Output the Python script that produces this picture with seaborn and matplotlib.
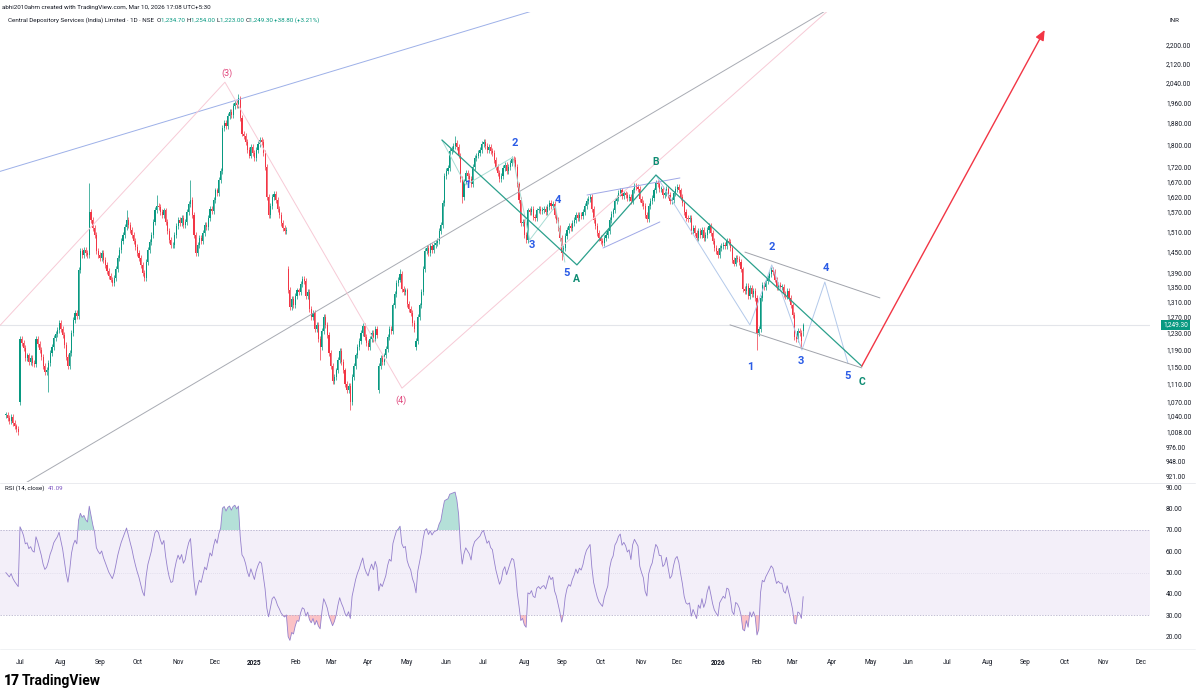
import numpy as np
import pandas as pd
import matplotlib
matplotlib.use("Agg")
import matplotlib.pyplot as plt
import seaborn as sns
from matplotlib.ticker import FixedLocator, NullLocator, FuncFormatter

# daily closes, CDSL, 19 Jun 2024 -> 10 Mar 2026
closes = [
    1042, 1036, 1030, 1038, 1026, 1018, 1012, 1006,
    1215, 1205, 1192, 1170, 1175, 1160, 1168, 1158, 1155, 1215,
    1203, 1188, 1172, 1150, 1136, 1142, 1158, 1180, 1195, 1217,
    1228, 1238, 1255, 1240, 1225, 1200, 1172, 1150, 1180, 1230,
    1262, 1280, 1272, 1396, 1450, 1440, 1455, 1445, 1440, 1570,
    1545, 1520, 1500, 1452, 1440, 1432, 1445, 1425, 1410, 1395,
    1380, 1370, 1360, 1375, 1400, 1430, 1455, 1480, 1500, 1522,
    1545, 1530, 1515, 1500, 1480, 1462, 1445, 1430, 1410, 1388,
    1375, 1420, 1455, 1477, 1500, 1540, 1578, 1590, 1585, 1570,
    1560, 1575, 1540, 1510, 1485, 1468, 1470, 1500, 1525, 1545,
    1535, 1550, 1530, 1540, 1570, 1595, 1610, 1560, 1500, 1445,
    1470, 1490, 1482, 1505, 1530, 1522, 1550, 1580, 1572, 1610,
    1640, 1630, 1675, 1705, 1861, 1880, 1868, 1905, 1920, 1910,
    1945, 1958, 1950, 1975, 1900, 1840, 1830, 1810, 1780, 1760,
    1790, 1770, 1750, 1780, 1800, 1815, 1810, 1770, 1720, 1620,
    1560, 1590, 1620, 1627, 1610, 1580, 1560, 1535, 1520, 1510,
    1515, 1341, 1295, 1318, 1302, 1325, 1340, 1335, 1358, 1372,
    1365, 1325, 1335, 1290, 1270, 1280, 1240, 1250, 1215, 1195,
    1235, 1270, 1250, 1225, 1180, 1150, 1115, 1125, 1140, 1165,
    1185, 1160, 1140, 1110, 1095, 1105, 1070, 1125, 1150, 1175,
    1195, 1210, 1230, 1248, 1220, 1205, 1195, 1215, 1230, 1215,
    1240, 1225, 1150, 1170, 1160, 1175, 1190, 1220, 1240, 1235,
    1300, 1330, 1360, 1370, 1385, 1345, 1335, 1340, 1305, 1290,
    1280, 1255, 1240, 1210, 1270, 1300, 1335, 1400, 1450, 1460,
    1445, 1465, 1455, 1470, 1475, 1480, 1510, 1530, 1600, 1690,
    1705, 1715, 1775, 1785, 1795, 1805, 1790, 1760, 1680, 1620,
    1670, 1700, 1690, 1680, 1660, 1720, 1750, 1760, 1770, 1780,
    1800, 1810, 1795, 1780, 1790, 1775, 1770, 1745, 1720, 1700,
    1680, 1690, 1715, 1725, 1705, 1720, 1735, 1748, 1745, 1720,
    1660, 1610, 1535, 1540, 1500, 1484, 1575, 1570, 1580, 1555,
    1550, 1575, 1580, 1572, 1578, 1580, 1570, 1585, 1600, 1590, 1595,
    1560, 1545, 1520, 1490, 1445, 1460, 1495, 1515, 1525, 1520,
    1535, 1545, 1560, 1550, 1562, 1558, 1570, 1590, 1605, 1612,
    1620, 1580, 1545, 1525, 1505, 1490, 1482, 1475, 1490, 1500,
    1510, 1545, 1565, 1575, 1605, 1615, 1632, 1640, 1622, 1630,
    1625, 1615, 1620, 1605, 1640, 1655, 1650, 1645, 1612, 1600,
    1590, 1560, 1548, 1590, 1605, 1615, 1640, 1665, 1660, 1645,
    1645, 1625, 1630, 1645, 1625, 1605, 1610, 1630, 1645, 1650,
    1640, 1620, 1600, 1570, 1552, 1548, 1550, 1510, 1520, 1505,
    1490, 1510, 1500, 1515, 1490, 1498, 1515, 1525, 1505, 1480,
    1460, 1450, 1440, 1460, 1465, 1470, 1465, 1480, 1478,
    1460, 1425, 1415, 1432, 1428, 1418, 1398, 1345, 1338, 1352,
    1325, 1348, 1330, 1338, 1320, 1230, 1240, 1320, 1355, 1350,
    1365, 1375, 1385, 1396, 1390, 1370, 1350, 1355, 1350, 1350,
    1330, 1325, 1338, 1320, 1300, 1275, 1220, 1215, 1235, 1230,
    1210.5, 1249.3,
]
gap_opens = {8: 1070, 159: 1400, 210: 1095, 231: 1195, 449: 1234.7}
wick_highs = {47: 1665, 68: 1578, 85: 1625, 104: 1675, 131: 1992,
              222: 1398, 253: 1830, 431: 1405, 449: 1254}
wick_lows = {24: 1092, 177: 1165, 194: 1052, 257: 1600, 313: 1425,
             423: 1188, 448: 1195, 449: 1223}

price_ticks = [2200, 2120, 2040, 1960, 1880, 1800, 1720, 1670, 1620, 1570,
               1510, 1450, 1390, 1350, 1310, 1270, 1230, 1190, 1150, 1110,
               1070, 1040, 1008, 976, 948, 921]
rsi_ticks = [20, 30, 40, 50, 60, 70, 80, 90]
last_close = 1249.30

# drawings: (bar index, price)
wave_pink = [(-4, 1245), (123.4, 2041), (223.1, 1100), (472, 2427)]
line_blue = [(-4, 1703), (300, 2366)]
line_grey = [(10, 906), (472, 2410)]
wave_abc = [(245.6, 1816), (321.6, 1411), (366.1, 1692), (482, 1150)]
sub_a = [(245.6, 1816), (259, 1658), (285.5, 1754), (295, 1484), (309.5, 1589), (314.8, 1419)]
sub_c = [(366.1, 1692), (419, 1250), (431.3, 1411), (448.3, 1188), (461.2, 1363), (474.2, 1157)]
diag_upper = [(416.2, 1448), (492.2, 1320)]
diag_lower = [(407.8, 1250), (482, 1146)]
b_upper = [(327.3, 1625), (379.6, 1682)]
b_lower = [(336.3, 1460), (368.3, 1539)]
target = [(482, 1150), (585, 2268)]

BLUE_LBL = "#2B5CE6"
GREEN_LBL = "#0E8C73"
PINK_LBL = "#E0457B"
labels = [
    (124.8, 2079, "(3)", PINK_LBL, 6.5, "normal"),
    (222.6, 1074, "(4)", PINK_LBL, 6.5, "normal"),
    (260, 1658, "1", BLUE_LBL, 8, "bold"),
    (286.6, 1805, "2", BLUE_LBL, 8, "bold"),
    (296.3, 1469, "3", BLUE_LBL, 8, "bold"),
    (310.9, 1608, "4", BLUE_LBL, 8, "bold"),
    (316, 1388, "5", BLUE_LBL, 8, "bold"),
    (321.6, 1371, "A", GREEN_LBL, 7.5, "bold"),
    (366.1, 1737, "B", GREEN_LBL, 7.5, "bold"),
    (419, 1148, "1", BLUE_LBL, 8, "bold"),
    (431.3, 1463, "2", BLUE_LBL, 8, "bold"),
    (447.7, 1162, "3", BLUE_LBL, 8, "bold"),
    (461.8, 1402, "4", BLUE_LBL, 8, "bold"),
    (474.2, 1127, "5", BLUE_LBL, 8, "bold"),
    (482, 1114, "C", GREEN_LBL, 7.5, "bold"),
]

UP, DOWN = "#089981", "#F23645"
TXT = "#131722"

sns.set_theme(style="white")
plt.rcParams["font.family"] = ["Roboto", "DejaVu Sans"]

W, H = 1200, 695
fig = plt.figure(figsize=(W / 100, H / 100), dpi=100)
fig.patch.set_facecolor("white")


def fx(px):
    return px / W


def fy(py):
    return 1 - py / H


ax = fig.add_axes([0, fy(482), fx(1150), (482 - 12) / H])
ax_rsi = fig.add_axes([0, fy(648), fx(1150), (648 - 483) / H])

n = len(closes)
idx = np.arange(n)
c = np.array(closes, dtype=float)
o = np.r_[c[0], c[:-1]]
for k, v in gap_opens.items():
    if k < n:
        o[k] = v
hi = np.maximum(o, c) * 1.006
lo = np.minimum(o, c) * 0.994
for k, v in wick_highs.items():
    if k < n:
        hi[k] = v
for k, v in wick_lows.items():
    if k < n:
        lo[k] = v
cols = np.where(c >= o, UP, DOWN)

df = pd.DataFrame({"i": idx, "open": o, "close": c, "high": hi, "low": lo})
df["date"] = pd.bdate_range("2024-06-19", periods=n)

# candles
ax.vlines(df["i"], df["low"], df["high"], colors=cols, linewidth=0.5)
body_lo = np.minimum(o, c)
body_h = np.maximum(np.abs(c - o), c * 0.0015)
ax.bar(df["i"], body_h, bottom=body_lo, width=0.62, color=cols, linewidth=0)


# drawings
def poly(ax_, pts, **kw):
    xs, ys = zip(*pts)
    ax_.plot(xs, ys, solid_capstyle="round", **kw)


poly(ax, line_blue, color="#9DB0E8", lw=0.7)
poly(ax, line_grey, color="#A8ABB3", lw=0.7)
poly(ax, wave_pink, color="#F7CAD6", lw=0.7)
poly(ax, sub_a, color="#A8DCD4", lw=0.7)
poly(ax, sub_c, color="#B3C9EA", lw=0.7)
poly(ax, b_upper, color="#9FA8E6", lw=0.7)
poly(ax, b_lower, color="#9FA8E6", lw=0.7)
poly(ax, diag_upper, color="#A0A3AB", lw=0.7)
poly(ax, diag_lower, color="#A0A3AB", lw=0.7)
poly(ax, wave_abc, color="#2BA08C", lw=0.9)
ax.annotate("", xy=target[1], xytext=target[0],
            arrowprops=dict(arrowstyle="-|>,head_length=0.5,head_width=0.22",
                            color="#F23645", lw=1.0, shrinkA=0, shrinkB=0))
for (xi, p, s, col, size, wt) in labels:
    ax.text(xi, p, s, color=col, fontsize=size, fontweight=wt, ha="center", va="center")

ax.axhline(last_close, color="#E3E5EA", lw=0.8, zorder=0)

ax.set_yscale("log")
ax.set_ylim(910, 2352)
ax.set_xlim(-3.26, 644.3)
ax.yaxis.set_major_locator(FixedLocator(price_ticks))
ax.yaxis.set_minor_locator(NullLocator())
ax.yaxis.set_major_formatter(FuncFormatter(lambda v, _: f"{v:,.2f}"))
ax.yaxis.tick_right()
ax.tick_params(axis="y", length=0, pad=11.5, labelsize=4.7, labelcolor=TXT)
ax.set_xticks([])
for s in ax.spines.values():
    s.set_visible(False)

# RSI(14) with Wilder smoothing
diff = np.diff(c, prepend=c[0])
ag, al = 12.0, 12.0
rsi = []
for d in diff:
    ag = (ag * 13 + max(d, 0)) / 14
    al = (al * 13 + max(-d, 0)) / 14
    rsi.append(100 * ag / (ag + al))
df["rsi"] = rsi

ax_rsi.axhspan(30, 70, color="#7E57C2", alpha=0.09, lw=0)
ax_rsi.axhline(70, color="#A9A4C4", lw=0.5, ls=(0, (2, 2)))
ax_rsi.axhline(30, color="#A9A4C4", lw=0.5, ls=(0, (2, 2)))
ax_rsi.axhline(50, color="#D3D0E2", lw=0.5, ls=(0, (1, 2)))
r = df["rsi"].to_numpy()
ax_rsi.fill_between(idx, 70, r, where=r > 70, interpolate=True, color="#089981", alpha=0.3, lw=0)
ax_rsi.fill_between(idx, 30, r, where=r < 30, interpolate=True, color="#F23645", alpha=0.3, lw=0)
sns.lineplot(data=df, x="i", y="rsi", ax=ax_rsi, color="#9580CC", linewidth=0.6)
ax_rsi.set_ylim(14.5, 92.1)
ax_rsi.set_xlim(-3.26, 644.3)
ax_rsi.yaxis.set_major_locator(FixedLocator(rsi_ticks))
ax_rsi.yaxis.set_major_formatter(FuncFormatter(lambda v, _: f"{v:.2f}"))
ax_rsi.yaxis.tick_right()
ax_rsi.tick_params(axis="y", length=0, pad=11.5, labelsize=4.7, labelcolor=TXT)
ax_rsi.set_xlabel("")
ax_rsi.set_ylabel("")
for s in ax_rsi.spines.values():
    s.set_visible(False)

# month ticks over the whole time scale (incl. future)
all_dates = pd.bdate_range("2024-06-19", "2026-12-31")
ser = pd.Series(np.arange(len(all_dates)), index=all_dates)
firsts = ser.groupby([all_dates.year, all_dates.month]).first()
tick_pos, tick_lbl = [], []
for (yr, mo), pos in firsts.items():
    if (yr, mo) == (2024, 6):
        continue
    tick_pos.append(pos)
    tick_lbl.append(str(yr) if mo == 1 else pd.Timestamp(yr, mo, 1).strftime("%b"))
ax_rsi.set_xticks(tick_pos)
ax_rsi.set_xticklabels(tick_lbl)
ax_rsi.tick_params(axis="x", length=0, pad=8, labelsize=4.7, labelcolor=TXT)
for t in ax_rsi.get_xticklabels():
    if t.get_text().isdigit():
        t.set_fontweight("bold")

# separators
fig.add_artist(plt.Line2D([0, fx(1195)], [fy(482.5), fy(482.5)], color="#E6E8EC", lw=0.6))
fig.add_artist(plt.Line2D([0, fx(1195)], [fy(649), fy(649)], color="#EEF0F3", lw=0.6))

# header text
renderer = fig.canvas.get_renderer()


def seq_text(px, py, parts, size):
    for s, col in parts:
        t = fig.text(fx(px), fy(py), s, color=col, fontsize=size, ha="left", va="center")
        px += t.get_window_extent(renderer=renderer).width


seq_text(2, 7, [("abhi2010ahm created with TradingView.com, Mar 10, 2026 17:08 UTC+5:30", TXT)], 4.5)
seq_text(8, 20, [("Central Depository Services (India) Limited \u00b7 1D \u00b7 NSE  ", TXT),
                 ("O", TXT), ("1,234.70 ", UP), ("H", TXT), ("1,254.00 ", UP),
                 ("L", TXT), ("1,223.00 ", UP), ("C", TXT), ("1,249.30 ", UP),
                 ("+38.80 (+3.21%)", UP)], 4.5)
seq_text(5, 488, [("RSI (14, close)  ", TXT), ("41.09", "#7E57C2")], 4.5)
fig.text(fx(1170), fy(20), "INR", color=TXT, fontsize=4.5, va="center")
fig.text(fx(1163), fy(325), "1,249.30", color="white", fontsize=4.7, va="center",
         bbox=dict(boxstyle="square,pad=0.25", fc="#089981", ec="none"))

fig.text(fx(4), fy(681), "17", color="black", fontsize=10, fontweight="heavy", va="center")
fig.text(fx(22), fy(681), "TradingView", color="black", fontsize=10, fontweight="bold", va="center")

fig.savefig("out.png", dpi=100, facecolor="white")
